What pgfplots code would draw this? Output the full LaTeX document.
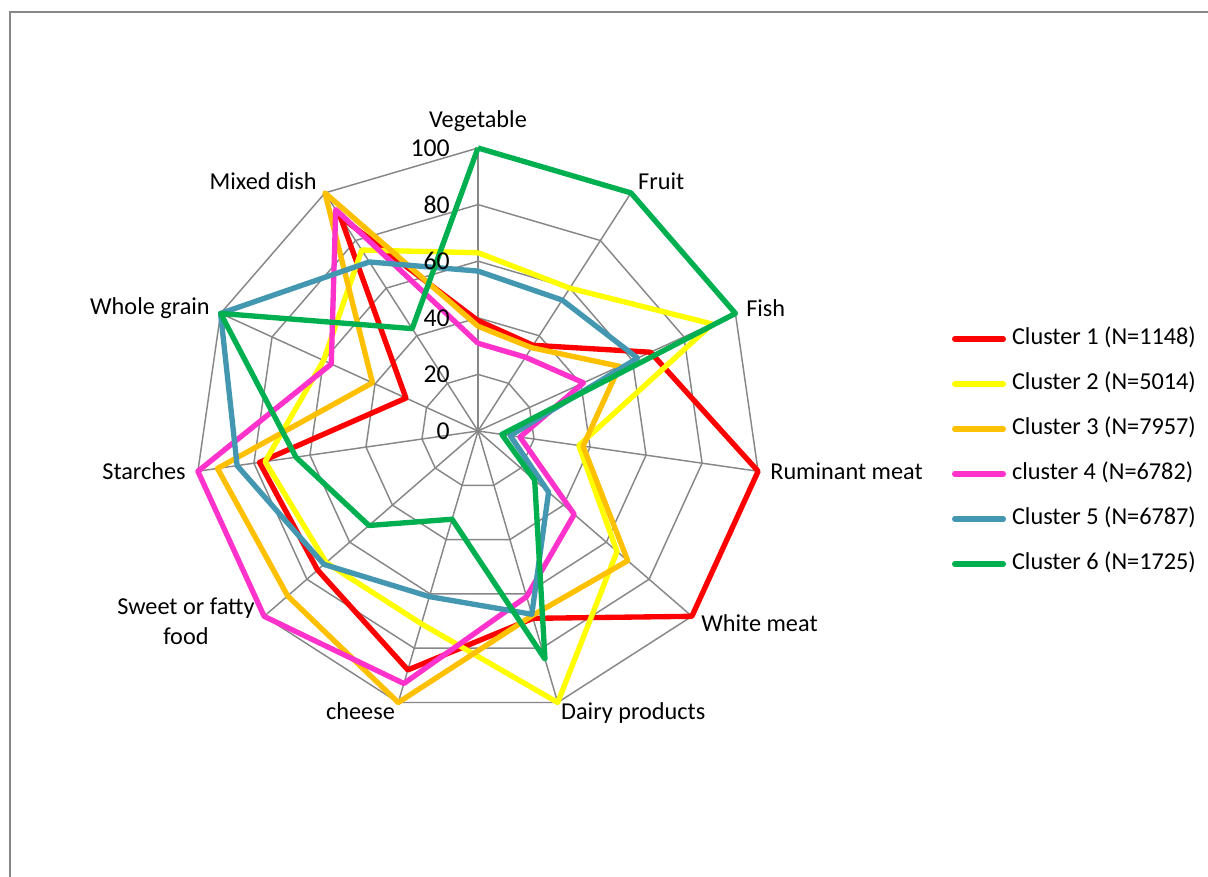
\documentclass[border=0pt]{standalone}
\usepackage{pgfplots}
\pgfplotsset{compat=1.18}
\usepackage{fontspec}
\setmainfont{Carlito}
\definecolor{cA}{HTML}{FF0000}
\definecolor{cB}{HTML}{FFFF00}
\definecolor{cC}{HTML}{FFC000}
\definecolor{cD}{HTML}{FF33CC}
\definecolor{cE}{HTML}{4397B0}
\definecolor{cF}{HTML}{00B050}
\definecolor{gridgray}{HTML}{878787}
\pgfplotsset{
  gridline/.style={color=gridgray, line width=1.1pt, data cs=polar, forget plot, mark=none},
  series/.style={color=#1, line width=4pt, data cs=polar, mark=none, line join=round},
}
\newcommand{\catfont}{\fontsize{18.2}{21}\selectfont}
\newcommand{\tickfont}{\fontsize{19.3}{22}\selectfont}
\begin{document}
\begin{tikzpicture}
\useasboundingbox (0,0) rectangle (906pt,657.75pt);
\draw[color=gridgray, line width=1.2pt] (7.5pt,0pt) -- (7.5pt,648.75pt) -- (906pt,648.75pt);
\begin{axis}[
  at={(358.5pt,334.5pt)}, anchor=center,
  scale only axis, width=424.5pt, height=424.5pt,
  xmin=-100, xmax=100, ymin=-100, ymax=100,
  hide axis, clip=false,
  legend cell align=left,
  legend image code/.code={\draw[#1, line cap=round] (2pt,0pt) -- (38.5pt,0pt);},
  legend style={at={(1.3375,0.4637)}, anchor=west, draw=none, fill=none,
    inner sep=0pt, outer sep=0pt, row sep=16.45pt, column sep=4.5pt,
    font=\catfont, nodes={inner sep=0pt, text height=13pt, text depth=4.3pt}},
]
% polygon rings
\addplot[gridline] coordinates {(90,20) (57.2727,20) (24.5455,20) (-8.1818,20) (-40.9091,20) (-73.6364,20) (-106.3636,20) (-139.0909,20) (-171.8182,20) (-204.5455,20) (-237.2727,20) (-270,20)};
\addplot[gridline] coordinates {(90,40) (57.2727,40) (24.5455,40) (-8.1818,40) (-40.9091,40) (-73.6364,40) (-106.3636,40) (-139.0909,40) (-171.8182,40) (-204.5455,40) (-237.2727,40) (-270,40)};
\addplot[gridline] coordinates {(90,60) (57.2727,60) (24.5455,60) (-8.1818,60) (-40.9091,60) (-73.6364,60) (-106.3636,60) (-139.0909,60) (-171.8182,60) (-204.5455,60) (-237.2727,60) (-270,60)};
\addplot[gridline] coordinates {(90,80) (57.2727,80) (24.5455,80) (-8.1818,80) (-40.9091,80) (-73.6364,80) (-106.3636,80) (-139.0909,80) (-171.8182,80) (-204.5455,80) (-237.2727,80) (-270,80)};
\addplot[gridline] coordinates {(90,100) (57.2727,100) (24.5455,100) (-8.1818,100) (-40.9091,100) (-73.6364,100) (-106.3636,100) (-139.0909,100) (-171.8182,100) (-204.5455,100) (-237.2727,100) (-270,100)};
% spokes
\addplot[gridline] coordinates {(90,0) (90,100)};
\addplot[gridline] coordinates {(57.2727,0) (57.2727,100)};
\addplot[gridline] coordinates {(24.5455,0) (24.5455,100)};
\addplot[gridline] coordinates {(-8.1818,0) (-8.1818,100)};
\addplot[gridline] coordinates {(-40.9091,0) (-40.9091,100)};
\addplot[gridline] coordinates {(-73.6364,0) (-73.6364,100)};
\addplot[gridline] coordinates {(-106.3636,0) (-106.3636,100)};
\addplot[gridline] coordinates {(-139.0909,0) (-139.0909,100)};
\addplot[gridline] coordinates {(-171.8182,0) (-171.8182,100)};
\addplot[gridline] coordinates {(-204.5455,0) (-204.5455,100)};
\addplot[gridline] coordinates {(-237.2727,0) (-237.2727,100)};
% series: Vegetable, Fruit, Fish, Ruminant meat, White meat, Dairy products, cheese, Sweet or fatty food, Starches, Whole grain, Mixed dish
\addplot[series=cA] coordinates {(90,39) (57.2727,36) (24.5455,67) (-8.1818,100) (-40.9091,100) (-73.6364,69) (-106.3636,88) (-139.0909,75) (-171.8182,78) (-204.5455,28) (-237.2727,90) (-270,39)};
\addlegendentry{Cluster 1 (N=1148)}
\addplot[series=cB] coordinates {(90,63) (57.2727,60) (24.5455,91) (-8.1818,36) (-40.9091,65) (-73.6364,100) (-106.3636,71) (-139.0909,71) (-171.8182,76) (-204.5455,60) (-237.2727,76) (-270,63)};
\addlegendentry{Cluster 2 (N=5014)}
\addplot[series=cC] coordinates {(90,37) (57.2727,35) (24.5455,55) (-8.1818,37.5) (-40.9091,70) (-73.6364,68) (-106.3636,100) (-139.0909,89) (-171.8182,93) (-204.5455,41) (-237.2727,100) (-270,37)};
\addlegendentry{Cluster 3 (N=7957)}
\addplot[series=cD] coordinates {(90,31) (57.2727,31) (24.5455,41) (-8.1818,15) (-40.9091,45) (-73.6364,61) (-106.3636,93) (-139.0909,100) (-171.8182,100) (-204.5455,57) (-237.2727,93) (-270,31)};
\addlegendentry{cluster 4 (N=6782)}
\addplot[series=cE] coordinates {(90,56.5) (57.2727,55) (24.5455,62) (-8.1818,11.5) (-40.9091,33) (-73.6364,67.5) (-106.3636,61) (-139.0909,72) (-171.8182,86) (-204.5455,100) (-237.2727,71) (-270,56.5)};
\addlegendentry{Cluster 5 (N=6787)}
\addplot[series=cF] coordinates {(90,100) (57.2727,100) (24.5455,100) (-8.1818,8.5) (-40.9091,26.5) (-73.6364,84) (-106.3636,32.5) (-139.0909,51) (-171.8182,65) (-204.5455,100) (-237.2727,43) (-270,100)};
\addlegendentry{Cluster 6 (N=1725)}
% tick labels
\node[anchor=east, inner sep=0pt, font=\tickfont] at (axis cs:-9.9,0) {0};
\node[anchor=east, inner sep=0pt, font=\tickfont] at (axis cs:-9.9,20) {20};
\node[anchor=east, inner sep=0pt, font=\tickfont] at (axis cs:-9.9,40) {40};
\node[anchor=east, inner sep=0pt, font=\tickfont] at (axis cs:-9.9,60) {60};
\node[anchor=east, inner sep=0pt, font=\tickfont] at (axis cs:-9.9,80) {80};
\node[anchor=east, inner sep=0pt, font=\tickfont] at (axis cs:-9.9,100) {100};
% category labels
\node[anchor=base, inner sep=0pt, font=\catfont] at (axis cs:0,107.1) {Vegetable};
\node[anchor=base west, inner sep=0pt, font=\catfont] at (axis cs:56.5,85.5) {Fruit};
\node[anchor=base west, inner sep=0pt, font=\catfont] at (axis cs:94.7,40.6) {Fish};
\node[anchor=base west, inner sep=0pt, font=\catfont] at (axis cs:103.2,-17.0) {Ruminant meat};
\node[anchor=base west, inner sep=0pt, font=\catfont] at (axis cs:78.8,-70.7) {White meat};
\node[anchor=base west, inner sep=0pt, font=\catfont] at (axis cs:29.3,-102.1) {Dairy products};
\node[anchor=base east, inner sep=0pt, font=\catfont] at (axis cs:-29.3,-102.1) {cheese};
\node[anchor=base, inner sep=0pt, font=\catfont] at (axis cs:-103.2,-65.0) {Sweet or fatty};
\node[anchor=base, inner sep=0pt, font=\catfont] at (axis cs:-103.2,-75.3) {food};
\node[anchor=base east, inner sep=0pt, font=\catfont] at (axis cs:-103.2,-17.0) {Starches};
\node[anchor=base east, inner sep=0pt, font=\catfont] at (axis cs:-94.7,41.0) {Whole grain};
\node[anchor=base east, inner sep=0pt, font=\catfont] at (axis cs:-56.9,85.5) {Mixed dish};
\end{axis}
\end{tikzpicture}
\end{document}
